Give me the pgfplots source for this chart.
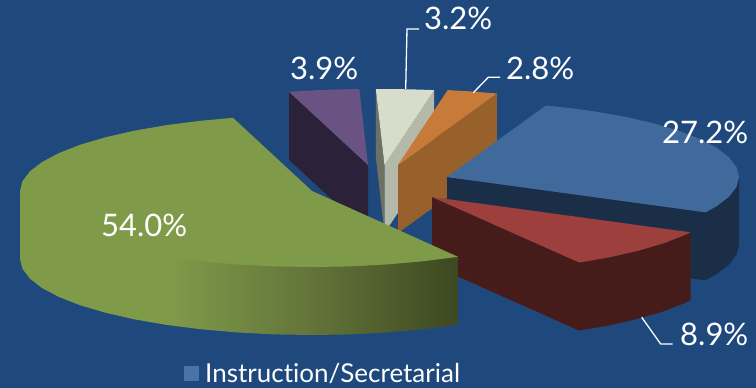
\documentclass[border=0pt]{standalone}
\usepackage{pgfplots}
\pgfplotsset{compat=1.18}
\usepackage{fontspec}
\setmainfont[Ligatures=NoCommon]{Lato}
\definecolor{bg}{HTML}{1F497D}
\definecolor{blueT}{HTML}{416A9C}
\definecolor{blueS}{HTML}{1B2E48}
\definecolor{redT}{HTML}{9C3F3D}
\definecolor{redS}{HTML}{461C1A}
\definecolor{greenT}{HTML}{7F9B4A}
\definecolor{greenM}{HTML}{63743A}
\definecolor{greenD}{HTML}{3C4820}
\definecolor{purpleT}{HTML}{6A5283}
\definecolor{purpleS}{HTML}{2B2239}
\definecolor{whiteT}{HTML}{D8DDCB}
\definecolor{whiteR}{HTML}{B5B9AA}
\definecolor{whiteL}{HTML}{6E7064}
\definecolor{orangeT}{HTML}{C87A38}
\definecolor{orangeS}{HTML}{98602B}
\definecolor{legendblue}{HTML}{4A74A8}
\begin{document}
\begin{tikzpicture}
\begin{axis}[
  scale only axis, width=756pt, height=388pt,
  xmin=0, xmax=756, ymin=0, ymax=388, y dir=reverse,
  hide axis, clip=true]
% backdrop
\addplot[draw=none, fill=bg] coordinates {(0,0) (756,0) (756,388) (0,388)} --cycle;

% 3.9% slice
\addplot[draw=none, fill=purpleS] coordinates {(289,91.8) (368,165) (368,233) (289,159.8)} --cycle;
\addplot[draw=none, fill=purpleT] coordinates {(289,91.8) (317.3,90.2) (342.6,89.3) (359.3,89) (368,165)} --cycle;

% 3.2% slice
\addplot[draw=none, fill=whiteL] coordinates {(375.8,89) (384.5,165) (384.5,233) (375.8,157)} --cycle;
\addplot[draw=none, fill=whiteR] coordinates {(384.5,165) (434.2,90.1) (434.2,158) (384.5,233)} --cycle;
\addplot[draw=none, fill=whiteT] coordinates {(375.8,89) (409.9,89.3) (434.2,90.1) (384.5,165)} --cycle;

% 2.8% slice
\addplot[draw=none, fill=orangeS] coordinates {(398,165) (496.9,93.5) (496.9,161.5) (398,233)} --cycle;
\addplot[draw=none, fill=orangeT] coordinates {(447.7,90.1) (473.6,91.6) (496.9,93.5) (398,165)} --cycle;

% 27.2% slice
\addplot[draw=none, fill=blueS] coordinates {(447,177) (705.5,212.3) (716.8,206.1) (729,196.7) (736.5,186.9) (739,177)
  (739,245) (736.5,254.9) (729,264.7) (716.8,274.1) (705.5,280.3) (447,245)} --cycle;
\addplot[draw=none, fill=blueT] coordinates {(447,177) (545.9,105.5) (570.4,108.1) (593,111.2) (624.8,116.7) (653.5,123.3)
  (678.7,130.7) (699.9,139) (716.8,147.9) (729,157.3) (736.5,167.1) (739,177)
  (736.5,186.9) (729,196.7) (716.8,206.1) (705.5,212.3)} --cycle;

% 8.9% slice
\addplot[draw=none, fill=redS] coordinates {(432,197) (579.3,262.6) (609.8,257.3) (638.5,250.7) (663.7,243.3) (684.9,235) (690.5,232.3)
  (690.5,300.3) (684.9,303) (663.7,311.3) (638.5,318.7) (609.8,325.3) (579.3,330.6) (432,265)} --cycle;
\addplot[draw=none, fill=redT] coordinates {(432,197) (690.5,232.3) (684.9,235) (663.7,243.3) (638.5,250.7) (609.8,257.3) (579.3,262.6)} --cycle;

% 54.0% slice: rim in three runs, darkening to the right; each run tucks under the top face
\addplot[draw=none, fill=greenT] coordinates {(20,191) (22.5,197) (30,206) (42.2,215) (59.1,224) (80.3,232) (105.5,240) (134.2,247) (166.5,252)
  (166.5,324.9) (134.2,319.3) (105.5,312.7) (80.3,305.3) (59.1,297) (42.2,288.1) (30,278.7) (22.5,268.9) (20,259)} --cycle;
\addplot[draw=none, left color=greenT, right color=greenM] coordinates {(166,252) (200.3,256) (236.4,259) (273.9,261) (312.5,262)
  (312.5,335) (273.9,334.4) (236.4,332.4) (200.3,329.2) (166,324.8)} --cycle;
\addplot[draw=none, left color=greenM, right color=greenD] coordinates {(312,262) (350.1,261) (387.6,259) (423.7,256) (458,256.8)
  (458,324.8) (423.7,329.2) (387.6,332.4) (350.1,334.4) (312,335)} --cycle;
\addplot[draw=none, fill=greenT] coordinates {(233,117.8) (200.3,120.8) (166,125.2) (134.2,130.7) (105.5,137.3) (80.3,144.7) (59.1,153)
  (42.2,161.9) (30,171.3) (22.5,181.1) (20,191) (22.5,200.9) (30,210.7) (42.2,220.1) (59.1,229) (80.3,237.3) (105.5,244.7)
  (134.2,251.3) (166,256.8) (200.3,261.2) (236.4,264.4) (273.9,266.4) (312,267) (350.1,266.4) (387.6,264.4) (423.7,261.2) (458,256.8)
  (312,191)} --cycle;

% leader lines
\addplot[white, line width=1.3pt] coordinates {(405.7,89) (407,29) (419,29)};
\addplot[white, line width=1.3pt] coordinates {(473.3,92.7) (488.3,77.3) (500,77.3)};
\addplot[white, line width=1.3pt] coordinates {(641.7,317.3) (660.7,344) (672.7,344)};

% legend key
\addplot[draw=none, fill=legendblue] coordinates {(184,366) (199,366) (199,381) (184,381)} --cycle;

% value labels and legend text
\tikzset{lab/.style={anchor=base west, inner sep=0pt, text=white, font=\fontsize{31}{31}\selectfont}}
\node[lab] at (axis cs:290,79) {3.9\%};
\node[lab] at (axis cs:424,30) {3.2\%};
\node[lab] at (axis cs:506,79) {2.8\%};
\node[lab] at (axis cs:662,143) {27.2\%};
\node[lab] at (axis cs:680,345) {8.9\%};
\node[lab] at (axis cs:101,236) {54.0\%};
\node[lab, font=\fontsize{26}{26}\selectfont] at (axis cs:205,382) {Instruction/Secretarial};
\end{axis}
\end{tikzpicture}
\end{document}
